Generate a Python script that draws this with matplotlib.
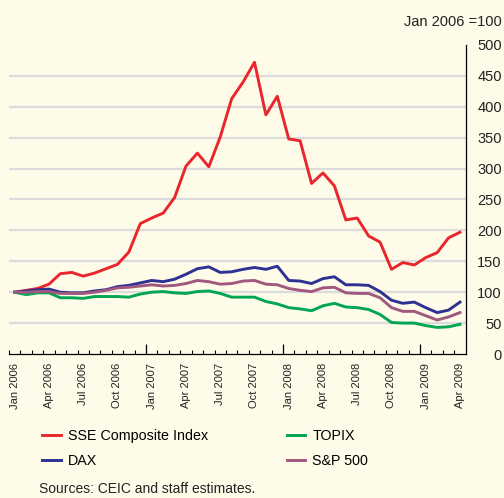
import numpy as np
import matplotlib
matplotlib.use("Agg")
import matplotlib.pyplot as plt

plt.rcParams['font.family'] = ['Liberation Sans', 'DejaVu Sans']

# monthly index levels, Jan 2006 = 100 (Jan 2006 .. Apr 2009)
months = ['Jan 2006', 'Feb 2006', 'Mar 2006', 'Apr 2006', 'May 2006', 'Jun 2006',
          'Jul 2006', 'Aug 2006', 'Sep 2006', 'Oct 2006', 'Nov 2006', 'Dec 2006',
          'Jan 2007', 'Feb 2007', 'Mar 2007', 'Apr 2007', 'May 2007', 'Jun 2007',
          'Jul 2007', 'Aug 2007', 'Sep 2007', 'Oct 2007', 'Nov 2007', 'Dec 2007',
          'Jan 2008', 'Feb 2008', 'Mar 2008', 'Apr 2008', 'May 2008', 'Jun 2008',
          'Jul 2008', 'Aug 2008', 'Sep 2008', 'Oct 2008', 'Nov 2008', 'Dec 2008',
          'Jan 2009', 'Feb 2009', 'Mar 2009', 'Apr 2009']

sse = [100, 103, 106, 113, 130, 132, 126, 131, 138, 145, 165, 211,
       220, 228, 253, 304, 325, 303, 351, 413, 440, 472, 387, 417,
       348, 345, 276, 293, 272, 217, 220, 191, 181, 137, 148, 144,
       156, 164, 188, 197]
dax = [100, 102, 104, 105, 100, 99, 99, 102, 104, 109, 111, 115,
       119, 117, 121, 129, 138, 141, 132, 133, 137, 140, 137, 142,
       119, 118, 114, 122, 125, 112, 112, 111, 101, 87, 82, 84,
       75, 67, 71, 84]
topix = [100, 96, 99, 99, 91, 91, 90, 93, 93, 93, 92, 97,
         100, 101, 99, 98, 101, 102, 98, 92, 92, 92, 85, 81,
         75, 73, 70, 78, 82, 76, 75, 72, 64, 51, 50, 50,
         46, 43, 44, 48]
sp500 = [100, 100, 101, 101, 98, 98, 98, 100, 103, 107, 108, 110,
         112, 110, 111, 114, 119, 117, 113, 114, 118, 119, 113, 112,
         106, 103, 101, 107, 108, 99, 98, 98, 91, 75, 69, 69,
         62, 55, 60, 67]

yticks = [0, 50, 100, 150, 200, 250, 300, 350, 400, 450, 500]

bg = '#fefbe9'
fig = plt.figure(figsize=(5.04, 4.98), dpi=100, facecolor=bg)
ax = fig.add_axes([9 / 504, 1 - 354 / 498, (465.7 - 9) / 504, (354 - 45) / 498])
ax.set_facecolor(bg)

x = np.arange(len(months)) + 0.5

# light horizontal grid, not at 0 or 500
ax.hlines(yticks[1:-1], 0, len(months), color='#dcdcdc', lw=1.6, zorder=1)

# order so the two-column legend reads SSE/TOPIX, DAX/S&P by row
ax.plot(x, sse, color='#e8262b', lw=2.1, label='SSE Composite Index', zorder=3)
ax.plot(x, dax, color='#2e3192', lw=2.1, label='DAX', zorder=3)
ax.plot(x, topix, color='#00a651', lw=2.1, label='TOPIX', zorder=3)
ax.plot(x, sp500, color='#a0587f', lw=2.1, label='S&P 500', zorder=3)

ax.set_xlim(0, len(months))
ax.set_ylim(0, 500)

for s in ['top', 'left']:
    ax.spines[s].set_visible(False)
ax.spines['bottom'].set_linewidth(0.9)
ax.spines['right'].set_linewidth(0.9)

# month ticks inside, longer at year boundaries
ax.set_xticks([12, 24, 36])
ax.set_xticks(range(0, len(months)), minor=True)
ax.tick_params(axis='x', which='major', direction='in', length=7, width=0.9, labelbottom=False)
ax.tick_params(axis='x', which='minor', direction='in', length=2.6, width=0.8)

sec = ax.secondary_xaxis('bottom')
sec.spines['bottom'].set_visible(False)
lab_idx = list(range(0, len(months), 3))
sec.set_xticks([x[i] for i in lab_idx])
sec.set_xticklabels([months[i] for i in lab_idx], rotation=90, fontsize=8, va='top')
sec.tick_params(axis='x', length=0, pad=6.5, colors='#222222')

ax.yaxis.tick_right()
ax.set_yticks(yticks)
ax.tick_params(axis='y', length=0, pad=26, labelsize=10.5, colors='#222222')
for t in ax.get_yticklabels():
    t.set_horizontalalignment('right')

fig.text(502 / 504, 1 - 22 / 498, 'Jan 2006 =100', ha='right', va='center',
         fontsize=10.5, color='#222222')

handles, labels = ax.get_legend_handles_labels()
fig.legend(handles, labels, loc='upper left', bbox_to_anchor=(42 / 504, 1 - 429 / 498),
           ncol=2, frameon=False, fontsize=10.3, handlelength=1.3, handletextpad=0.5,
           columnspacing=5.5, labelspacing=0.75, borderpad=0, borderaxespad=0)

fig.text(39 / 504, 1 - 489 / 498, 'Sources: CEIC and staff estimates.', ha='left',
         va='center', fontsize=10, color='#222222')

fig.savefig('out.png', dpi=100, facecolor=bg)
